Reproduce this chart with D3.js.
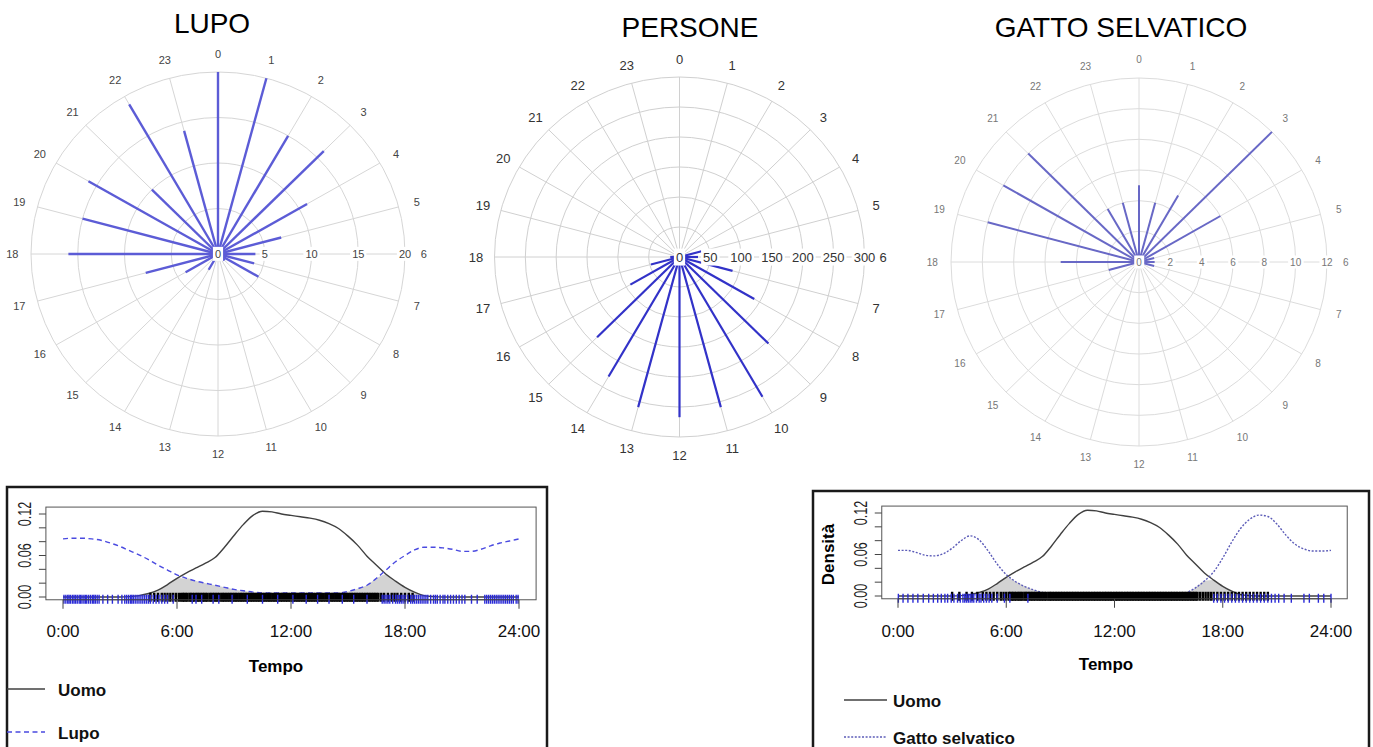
<!DOCTYPE html>
<html>
<head>
<meta charset="utf-8">
<script src="https://cdn.jsdelivr.net/npm/d3@7"></script>
<style>
body { margin: 0; background: #fff; }
svg { display: block; font-family: "Liberation Sans", Arial, sans-serif; }
</style>
</head>
<body>
<svg id="chart" width="1373" height="747"></svg>
<script>
// hours of the day (radial categories)
var hours = d3.range(24);

// detections per hour
var lupoCounts    = [20, 20, 15, 16, 11, 7, 4, 4, 5, 1, 0, 0, 0, 0, 2, 0, 4, 8, 16, 15, 16, 10, 19, 14];
var personeCounts = [0, 0, 0, 3, 10, 37, 30, 89, 140, 204, 269, 259, 267, 259, 230, 189, 92, 48, 15, 3, 0, 0, 0, 0];
var gattoCounts   = [5, 4, 5, 12, 6, 1, 1, 1, 0, 0, 0, 0, 0, 0, 0, 0, 0, 2, 5, 10, 10, 10, 4, 4];

var lupoRings    = [5, 10, 15, 20];
var personeRings = [50, 100, 150, 200, 250, 300];
var gattoRings   = [2, 4, 6, 8, 10, 12];

// kernel density, read every half hour from 0:00 to 24:00
var densityTimes = d3.range(0, 24.01, 0.5);
var uomoDensity = [0, 0, 0, 0, 0, 0, 0, 0.0005, 0.002, 0.005, 0.010, 0.018, 0.027, 0.035, 0.042, 0.049,
    0.057, 0.072, 0.089, 0.105, 0.118, 0.124, 0.123, 0.120, 0.118, 0.116, 0.114, 0.111, 0.106, 0.099,
    0.088, 0.075, 0.059, 0.046, 0.033, 0.023, 0.014, 0.007, 0.002, 0.0005, 0, 0, 0, 0, 0, 0, 0, 0, 0];
var lupoDensity = [0.084, 0.085, 0.085, 0.084, 0.082, 0.078, 0.073, 0.067, 0.061, 0.054, 0.046, 0.039,
    0.032, 0.027, 0.023, 0.020, 0.017, 0.014, 0.011, 0.009, 0.007, 0.006, 0.006, 0.006, 0.006, 0.006,
    0.006, 0.006, 0.006, 0.006, 0.008, 0.012, 0.017, 0.027, 0.039, 0.051, 0.060, 0.068, 0.072, 0.072,
    0.071, 0.069, 0.066, 0.066, 0.069, 0.074, 0.078, 0.081, 0.084];
var gattoDensity = [0.066, 0.066, 0.063, 0.059, 0.058, 0.061, 0.069, 0.080, 0.087, 0.081, 0.065, 0.046,
    0.031, 0.021, 0.014, 0.009, 0.005, 0.003, 0.002, 0.001, 0.001, 0.001, 0.001, 0.001, 0.001, 0.001,
    0.001, 0.001, 0.001, 0.001, 0.001, 0.002, 0.005, 0.012, 0.022, 0.035, 0.055, 0.078, 0.098, 0.111,
    0.117, 0.115, 0.104, 0.088, 0.075, 0.068, 0.065, 0.065, 0.066];

var timeTicks  = [0, 6, 12, 18, 24];
var timeLabels = ["0:00", "6:00", "12:00", "18:00", "24:00"];
var densityTicks  = [0, 0.02, 0.04, 0.06, 0.08, 0.10, 0.12];
var densityLabels = ["0.00", "", "", "0.06", "", "", "0.12"];

// observation times (rug)
var uomoRugCore = [6.22, 6.31, 6.38, 6.47, 6.55, 6.66, 6.73, 6.82, 6.9, 7.01, 7.08, 7.17, 7.26, 7.35, 7.43,
    7.52, 7.6, 7.71, 7.79, 7.88, 7.96, 8.05, 8.14, 8.22, 8.33, 8.41, 8.49, 8.58, 8.67, 8.76, 8.84, 8.93,
    9.02, 9.1, 9.19, 9.28, 9.37, 9.45, 9.54, 9.63, 9.71, 9.8, 9.89, 9.97, 10.06, 10.15, 10.24, 10.32,
    10.41, 10.5, 10.58, 10.67, 10.76, 10.85, 10.93, 11.02, 11.11, 11.19, 11.28, 11.37, 11.46, 11.54,
    11.63, 11.72, 11.8, 11.89, 11.98, 12.07, 12.15, 12.24, 12.33, 12.41, 12.5, 12.59, 12.68, 12.76,
    12.85, 12.94, 13.02, 13.11, 13.2, 13.29, 13.37, 13.46, 13.55, 13.63, 13.72, 13.81, 13.9, 13.98,
    14.07, 14.16, 14.24, 14.33, 14.42, 14.51, 14.59, 14.68, 14.77, 14.85, 14.94, 15.03, 15.12, 15.2,
    15.29, 15.38, 15.46, 15.55, 15.64, 15.73, 15.81, 15.9, 15.99, 16.07, 16.16, 16.25, 16.34, 16.42, 16.51];
var uomoRugLupoExtra = [4.6, 4.8, 5.0, 5.2, 5.35, 5.5, 5.65, 5.8, 5.95, 6.1,
    16.6, 16.75, 16.9, 17.1, 17.3, 17.45, 17.6, 17.8, 18.0, 18.2, 18.4];
var uomoRugGattoExtra = [3.0, 3.4, 3.8, 4.1, 4.4, 4.7, 4.9, 5.1, 5.3, 5.5, 5.7, 5.85, 6.0, 6.15,
    16.6, 16.75, 16.9, 17.05, 17.2, 17.35, 17.5, 17.7, 17.9, 18.1, 18.3, 18.5, 18.7, 18.9, 19.1, 19.3,
    19.5, 19.7, 19.9, 20.1, 20.3, 20.5];
var lupoRug = [0.05, 0.15, 0.25, 0.32, 0.4, 0.5, 0.58, 0.66, 0.75, 0.85, 0.92, 1.0, 1.1, 1.18, 1.25,
    1.35, 1.45, 1.55, 1.62, 1.7, 1.8, 1.9, 2.1, 2.35, 2.6, 2.9, 3.1, 3.25, 3.35, 3.45, 3.55, 3.62, 3.7,
    3.8, 3.9, 4.0, 4.1, 4.2, 4.3, 4.4, 4.5, 4.6, 4.75, 4.9, 5.05, 5.2, 5.35, 5.5, 5.8, 6.8, 7.0, 7.3,
    7.9, 8.2, 8.9, 9.7, 10.5, 11.3, 12.1, 12.8, 13.4, 14.0, 14.7, 15.3, 16.0, 16.8, 16.9, 17.0, 17.1,
    17.2, 17.35, 17.5, 17.6, 17.7, 17.8, 17.9, 18.0, 18.15, 18.3, 18.4, 18.5, 18.6, 18.7, 18.8, 18.9,
    19.0, 19.1, 19.2, 19.35, 19.5, 19.6, 19.7, 19.85, 20.0, 20.1, 20.25, 20.4, 20.55, 20.7, 20.85,
    21.0, 21.15, 21.5, 21.8, 22.2, 22.3, 22.4, 22.5, 22.6, 22.7, 22.8, 22.9, 23.0, 23.1, 23.2, 23.3,
    23.4, 23.5, 23.6, 23.7, 23.85, 23.95];
var gattoRug = [0.02, 0.28, 0.55, 0.83, 1.1, 1.4, 1.7, 1.96, 2.2, 2.4, 2.6, 2.75, 2.95, 3.1, 3.3, 3.45,
    3.6, 3.7, 3.8, 3.9, 4.0, 4.1, 4.2, 4.35, 4.5, 4.6, 4.75, 4.9, 5.05, 5.2, 5.5, 5.9, 6.2, 7.2,
    17.5, 17.7, 17.9, 18.1, 18.3, 18.5, 18.7, 18.9, 19.1, 19.3, 19.5, 19.7, 19.9, 20.1, 20.3, 20.5,
    20.7, 20.9, 21.1, 21.4, 21.8, 22.5, 22.8, 23.3, 23.6, 24.0];

var svg = d3.select("#chart");
svg.append("rect").attr("width", 1373).attr("height", 747).attr("fill", "#fff");

var drawRadial = function (cfg) {
    var g = svg.append("g");
    var max = cfg.rings[cfg.rings.length - 1];
    var rx = d3.scaleLinear().domain([0, max]).range([0, cfg.rx]);
    var ry = d3.scaleLinear().domain([0, max]).range([0, cfg.ry]);
    var ang = d3.scaleLinear().domain([0, 24]).range([0, 2 * Math.PI]);
    var px = function (h, v) { return cfg.cx + rx(v) * Math.sin(ang(h)); };
    var py = function (h, v) { return cfg.cy - ry(v) * Math.cos(ang(h)); };

    g.selectAll(".ring").data(cfg.rings).enter().append("ellipse")
        .attr("cx", cfg.cx).attr("cy", cfg.cy)
        .attr("rx", function (d) { return rx(d); })
        .attr("ry", function (d) { return ry(d); })
        .attr("fill", "none").attr("stroke", cfg.grid).attr("stroke-width", 1);

    g.selectAll(".spoke").data(hours).enter().append("line")
        .attr("x1", cfg.cx).attr("y1", cfg.cy)
        .attr("x2", function (d) { return px(d, max); })
        .attr("y2", function (d) { return py(d, max); })
        .attr("stroke", cfg.grid).attr("stroke-width", 1);

    g.selectAll(".bar").data(cfg.values).enter().append("line")
        .attr("x1", cfg.cx).attr("y1", cfg.cy)
        .attr("x2", function (d, i) { return px(hours[i], d); })
        .attr("y2", function (d, i) { return py(hours[i], d); })
        .attr("stroke", cfg.color).attr("stroke-width", cfg.width)
        .attr("stroke-linecap", "butt");

    // ring labels along the 6 o'clock axis, plus 0 in the middle
    var ringLab = g.selectAll(".rlab").data([0].concat(cfg.rings)).enter().append("g")
        .attr("transform", function (d) { return "translate(" + px(6, d) + "," + py(6, d) + ")"; });
    ringLab.append("text")
        .attr("text-anchor", "middle").attr("dy", "0.35em")
        .attr("font-size", cfg.fontSize).attr("fill", cfg.labelColor)
        .text(function (d) { return d; })
        .each(function () {
            var b = this.getBBox();
            d3.select(this.parentNode).insert("rect", "text")
                .attr("x", b.x - 2).attr("y", b.y - 1)
                .attr("width", b.width + 4).attr("height", b.height + 2)
                .attr("fill", "#fff");
        });

    g.selectAll(".hlab").data(hours).enter().append("text")
        .attr("x", function (d) { return px(d, max * 1.1); })
        .attr("y", function (d) { return py(d, max * 1.1); })
        .attr("text-anchor", "middle").attr("dy", "0.35em")
        .attr("font-size", cfg.fontSize).attr("fill", cfg.labelColor)
        .text(function (d) { return d; });

    svg.append("text")
        .attr("x", cfg.titleX).attr("y", cfg.titleY)
        .attr("text-anchor", "middle").attr("font-size", 28).attr("fill", "#000")
        .text(cfg.title);
};

drawRadial({ title: "LUPO", titleX: 212, titleY: 33, values: lupoCounts, rings: lupoRings,
    cx: 218, cy: 254, rx: 187, ry: 182, color: "#5c5cd6", width: 2.4,
    grid: "#d6d6d6", labelColor: "#444", fontSize: 11 });
drawRadial({ title: "PERSONE", titleX: 690, titleY: 37, values: personeCounts, rings: personeRings,
    cx: 679.5, cy: 257, rx: 185, ry: 180, color: "#3232c8", width: 2.2,
    grid: "#d0d0d0", labelColor: "#333", fontSize: 13 });
drawRadial({ title: "GATTO SELVATICO", titleX: 1121, titleY: 37, values: gattoCounts, rings: gattoRings,
    cx: 1139, cy: 262, rx: 188, ry: 184, color: "#6868c6", width: 2,
    grid: "#dcdcdc", labelColor: "#777", fontSize: 10 });

var drawDensity = function (cfg) {
    var g = svg.append("g");
    var x = d3.scaleLinear().domain([0, 24]).range([cfg.x0, cfg.x24]);
    var y = d3.scaleLinear().domain([0, 0.12]).range([cfg.y0, cfg.y12]);
    var left = x(-0.9), right = x(24.9), top = y(0.13), bottom = y(-0.004);

    // outer frame
    g.append("path")
        .attr("d", "M" + cfg.frame[0] + ",760V" + cfg.frame[1] + "H" + cfg.frame[2] + "V760")
        .attr("fill", "none").attr("stroke", "#1a1a1a").attr("stroke-width", 2.5);

    var pts = densityTimes.map(function (t, i) {
        return { t: t, a: uomoDensity[i], b: cfg.other[i] };
    });
    var area = d3.area().curve(d3.curveMonotoneX)
        .x(function (d) { return x(d.t); })
        .y0(y(0))
        .y1(function (d) { return y(Math.min(d.a, d.b)); });
    g.append("path").datum(pts).attr("d", area).attr("fill", "#d3d3d3");

    g.append("rect").attr("x", left).attr("y", top)
        .attr("width", right - left).attr("height", bottom - top)
        .attr("fill", "none").attr("stroke", "#555").attr("stroke-width", 1);

    var line = d3.line().curve(d3.curveMonotoneX).x(function (d) { return x(d.t); });
    g.append("path").datum(pts)
        .attr("d", line.y(function (d) { return y(d.a); }))
        .attr("fill", "none").attr("stroke", "#404040").attr("stroke-width", 1.4);
    g.append("path").datum(pts)
        .attr("d", line.y(function (d) { return y(d.b); }))
        .attr("fill", "none").attr("stroke", cfg.color).attr("stroke-width", 1.4)
        .attr("stroke-dasharray", cfg.dash);

    // rugs
    g.selectAll(".rugA").data(uomoRugCore.concat(cfg.uomoExtra)).enter().append("line")
        .attr("x1", function (d) { return x(d); }).attr("x2", function (d) { return x(d); })
        .attr("y1", bottom - 7).attr("y2", bottom + 2)
        .attr("stroke", "#000").attr("stroke-width", 2.4);
    g.selectAll(".rugB").data(cfg.rug).enter().append("line")
        .attr("x1", function (d) { return x(d); }).attr("x2", function (d) { return x(d); })
        .attr("y1", bottom - 5).attr("y2", bottom + 4)
        .attr("stroke", "#2a2ad8").attr("stroke-width", 1.4);

    // x axis
    g.append("line").attr("x1", x(0)).attr("x2", x(24)).attr("y1", bottom).attr("y2", bottom)
        .attr("stroke", "#444");
    g.selectAll(".xt").data(timeTicks).enter().append("line")
        .attr("x1", function (d) { return x(d); }).attr("x2", function (d) { return x(d); })
        .attr("y1", bottom).attr("y2", bottom + 9).attr("stroke", "#444");
    g.selectAll(".xl").data(timeTicks).enter().append("text")
        .attr("x", function (d) { return x(d); }).attr("y", 637)
        .attr("text-anchor", "middle").attr("font-size", 17).attr("fill", "#111")
        .text(function (d, i) { return timeLabels[i]; });

    // y axis
    g.selectAll(".yt").data(densityTicks).enter().append("line")
        .attr("x1", left - 7).attr("x2", left)
        .attr("y1", function (d) { return y(d); }).attr("y2", function (d) { return y(d); })
        .attr("stroke", "#444");
    g.selectAll(".yl").data(densityTicks).enter().append("text")
        .attr("transform", function (d) { return "translate(" + (left - 15) + "," + y(d) + ") rotate(-90) scale(0.7,1)"; })
        .attr("text-anchor", "middle").attr("font-size", 18).attr("fill", "#222")
        .text(function (d, i) { return densityLabels[i]; });
    if (cfg.yTitle) {
        g.append("text")
            .attr("transform", "translate(" + (left - 48) + "," + y(0.06) + ") rotate(-90)")
            .attr("text-anchor", "middle").attr("font-size", 17).attr("font-weight", "bold")
            .text(cfg.yTitle);
    }

    g.append("text").attr("x", cfg.tempoX).attr("y", cfg.tempoY)
        .attr("text-anchor", "middle").attr("font-size", 17).attr("font-weight", "bold")
        .text("Tempo");

    // legend
    var leg = g.selectAll(".leg").data(cfg.legend).enter().append("g");
    leg.append("line")
        .attr("x1", cfg.legX0).attr("x2", cfg.legX1)
        .attr("y1", function (d) { return d.y; }).attr("y2", function (d) { return d.y; })
        .attr("stroke", function (d) { return d.color; }).attr("stroke-width", 1.4)
        .attr("stroke-dasharray", function (d) { return d.dash; });
    leg.append("text")
        .attr("x", cfg.legText).attr("y", function (d) { return d.y + 7; })
        .attr("font-size", 17).attr("font-weight", "bold").attr("fill", "#111")
        .text(function (d) { return d.name; });
};

drawDensity({ other: lupoDensity, rug: lupoRug, uomoExtra: uomoRugLupoExtra,
    color: "#4a4ae0", dash: "5,3.5",
    x0: 63, x24: 519, y0: 597, y12: 514, frame: [7, 487, 547],
    tempoX: 276, tempoY: 672, legX0: 7, legX1: 45, legText: 58,
    legend: [{ name: "Uomo", y: 689, color: "#404040", dash: null },
             { name: "Lupo", y: 732, color: "#4a4ae0", dash: "5,3.5" }] });

drawDensity({ other: gattoDensity, rug: gattoRug, uomoExtra: uomoRugGattoExtra,
    color: "#5c5cb8", dash: "2,1.6", yTitle: "Densità",
    x0: 898, x24: 1331, y0: 596, y12: 513, frame: [813, 491, 1369],
    tempoX: 1106, tempoY: 670, legX0: 844, legX1: 887, legText: 893,
    legend: [{ name: "Uomo", y: 700, color: "#404040", dash: null },
             { name: "Gatto selvatico", y: 737, color: "#5c5cb8", dash: "2,1.6" }] });
</script>
</body>
</html>
